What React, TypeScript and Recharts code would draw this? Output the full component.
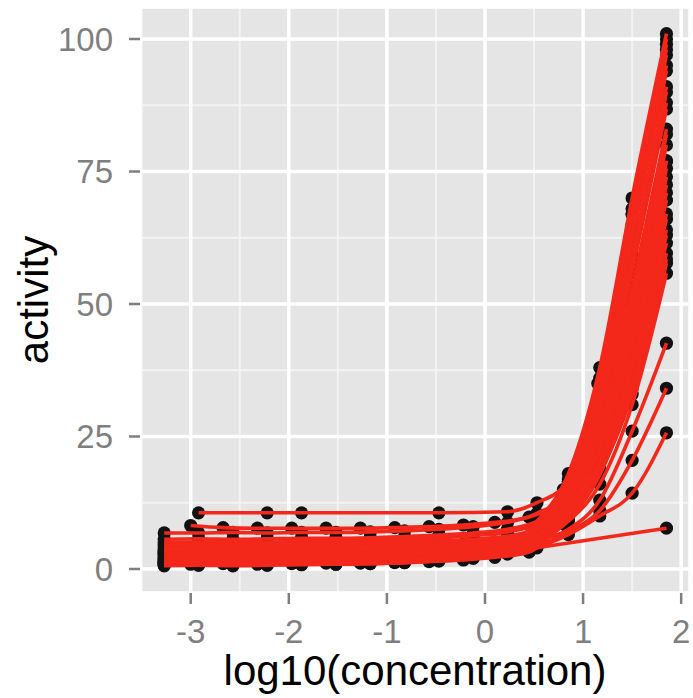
import React from 'react';
import { ComposedChart, Line, Scatter, XAxis, YAxis, CartesianGrid } from 'recharts';

// log10 concentration series (two dilution schemes)
const concA = [-3.27, -2.92, -2.57, -2.22, -1.87, -1.52, -1.17, -0.82, -0.47, -0.12, 0.23, 0.53, 0.85, 1.17, 1.5, 1.85];
const concB = [-3.0, -2.67, -2.32, -1.97, -1.62, -1.27, -0.92, -0.57, -0.22, 0.1, 0.45, 0.8, 1.15, 1.5, 1.85];

// activity per compound (concA scheme)
const cmpd01 = [2.0, 2.1, 1.9, 2.0, 2.2, 2.1, 2.3, 2.5, 2.8, 3.4, 4.6, 9, 18, 38, 70, 101];
const cmpd02 = [1.2, 1.3, 1.1, 1.3, 1.4, 1.4, 1.6, 1.9, 2.3, 2.9, 4.0, 8.5, 17, 36, 68, 100];
const cmpd03 = [3.2, 3.1, 3.3, 3.2, 3.3, 3.4, 3.5, 3.7, 4.0, 4.4, 5.3, 8, 16, 34, 65, 97];
const cmpd04 = [0.8, 0.9, 0.8, 1.0, 1.0, 1.1, 1.3, 1.5, 1.9, 2.5, 3.6, 8, 15.5, 32, 62, 94];
const cmpd05 = [4.2, 4.3, 4.1, 4.2, 4.4, 4.3, 4.5, 4.7, 5.0, 5.4, 6.0, 8, 15, 30, 59, 91];
const cmpd06 = [1.0, 1.1, 1.0, 1.1, 1.2, 1.3, 1.4, 1.7, 2.1, 2.7, 3.7, 7, 13, 27, 53, 83];
const cmpd07 = [5.0, 5.1, 5.2, 5.1, 5.2, 5.3, 5.4, 5.6, 5.9, 6.3, 7.0, 8.5, 13.5, 27, 52, 82];
const cmpd08 = [1.6, 1.5, 1.7, 1.7, 1.8, 1.9, 2.0, 2.2, 2.5, 3.0, 3.9, 6.5, 12, 25, 48, 77];
const cmpd09 = [3.8, 3.9, 3.8, 3.9, 4.0, 4.0, 4.1, 4.3, 4.6, 5.0, 5.7, 7.5, 12.5, 25, 47, 75.6];
const cmpd10 = [2.8, 2.7, 2.9, 2.9, 3.0, 3.0, 3.1, 3.3, 3.6, 4.0, 4.8, 6.5, 11.5, 23, 45, 72.5];
const cmpd11 = [4.6, 4.7, 4.6, 4.7, 4.8, 4.8, 4.9, 5.1, 5.3, 5.6, 6.2, 7.5, 11.5, 22, 42, 69.6];
const cmpd12 = [3.4, 3.5, 3.4, 3.5, 3.5, 3.6, 3.7, 3.8, 4.0, 4.3, 4.8, 6, 10, 19, 37, 61.5];
const cmpd13 = [1.3, 1.4, 1.3, 1.4, 1.5, 1.5, 1.6, 1.8, 2.1, 2.6, 3.4, 5.5, 9.5, 18, 35, 59.6];
const cmpd14 = [0.7, 0.8, 0.7, 0.8, 0.9, 0.9, 1.0, 1.2, 1.5, 2.0, 2.8, 5, 9, 16, 31, 55.8];
const cmpd15 = [3.0, 3.1, 3.0, 3.1, 3.2, 3.2, 3.3, 3.5, 3.7, 4.0, 4.5, 5.3, 7.5, 13, 26, 42.6];
const cmpd16 = [1.5, 1.6, 1.5, 1.6, 1.7, 1.7, 1.8, 2.0, 2.3, 2.7, 3.4, 4.3, 7, 11, 20.5, 34.1];
const cmpd17 = [2.0, 2.1, 2.0, 2.1, 2.2, 2.2, 2.3, 2.5, 2.7, 3.0, 3.5, 4.2, 6.5, 10, 14.3, 25.7];
const cmpd18 = [1.2, 1.3, 1.2, 1.3, 1.4, 1.4, 1.5, 1.7, 2.0, 2.5, 3.2, 4.0, null, null, null, 7.7];
const cmpd19 = [null, 10.6, null, 10.6, 10.6, null, null, null, 10.6, null, 10.8, 12.5, 16.5, 30, 52, 77];
const cmpd20 = [6.8, 6.8, 6.9, 6.8, 6.9, 6.9, 7.0, 7.2, 7.5, 8.0, 8.8, 10.5, 14.5, 29, 56, 86.8];
const cmpd27 = [2.6, 2.7, 2.5, 2.6, 2.7, 2.8, 2.9, 3.1, 3.4, 3.9, 5.0, 8.5, 16.5, 35, 67, 98];
const cmpd28 = [0.6, 0.7, 0.6, 0.7, 0.8, 0.9, 1.0, 1.2, 1.6, 2.2, 3.4, 7.5, 15.5, 33, 63, 95];
const cmpd29 = [3.6, 3.7, 3.6, 3.7, 3.8, 3.8, 3.9, 4.1, 4.4, 4.8, 5.6, 8, 14, 30, 57, 88];
const cmpd30 = [5.6, 5.7, 5.6, 5.7, 5.8, 5.8, 5.9, 6.1, 6.4, 6.8, 7.5, 9, 13, 26, 50, 80];
const cmpd31 = [1.1, 1.2, 1.1, 1.2, 1.3, 1.3, 1.4, 1.6, 1.9, 2.4, 3.3, 6.3, 11.5, 23, 46, 74];
const cmpd32 = [2.3, 2.4, 2.3, 2.4, 2.5, 2.5, 2.6, 2.8, 3.1, 3.5, 4.3, 6.2, 10.5, 20.5, 40, 66];

// activity per compound (concB scheme)
const cmpd21 = [2.4, 2.5, 2.4, 2.5, 2.6, 2.6, 2.7, 2.9, 3.2, 3.7, 4.8, 13, 29, 58, 90];
const cmpd22 = [0.9, 1.0, 0.9, 1.0, 1.1, 1.1, 1.2, 1.4, 1.7, 2.2, 3.2, 10.5, 22, 43, 71];
const cmpd23 = [2.2, 2.3, 2.2, 2.3, 2.4, 2.4, 2.5, 2.7, 3.0, 3.4, 4.3, 9.5, 19.5, 39, 64];
const cmpd24 = [2.6, 2.7, 2.6, 2.7, 2.8, 2.8, 2.9, 3.1, 3.3, 3.7, 4.5, 9, 17.5, 33, 57.7];
const cmpd25 = [8.2, 7.8, 7.7, 7.7, 7.7, 7.7, 7.8, 8.0, 8.3, 8.8, 9.8, 13.5, 24, 43, 67];
const cmpd26 = [1.8, 1.9, 1.8, 1.9, 2.0, 2.0, 2.1, 2.3, 2.6, 3.1, 4.3, 15, 35, 67, 99];
const cmpd33 = [3.9, 4.0, 3.9, 4.0, 4.1, 4.1, 4.2, 4.4, 4.7, 5.1, 5.9, 10, 19, 38, 63];
const cmpd34 = [1.5, 1.6, 1.5, 1.6, 1.7, 1.7, 1.8, 2.0, 2.3, 2.8, 3.7, 8.5, 17, 34, 58.5];

const xTicks = [-3, -2, -1, 0, 1, 2];
const yTicks = [0, 25, 50, 75, 100];
const xMinor = [-3.5, -2.5, -1.5, -0.5, 0.5, 1.5];
const yMinor = [12.5, 37.5, 62.5, 87.5];

const seriesA = [cmpd01, cmpd02, cmpd03, cmpd04, cmpd05, cmpd06, cmpd07, cmpd08, cmpd09, cmpd10, cmpd11, cmpd12, cmpd13,
  cmpd14, cmpd15, cmpd16, cmpd17, cmpd18, cmpd19, cmpd20, cmpd27, cmpd28, cmpd29, cmpd30, cmpd31, cmpd32];
const seriesB = [cmpd21, cmpd22, cmpd23, cmpd24, cmpd25, cmpd26, cmpd33, cmpd34];

const compounds = [
  ...seriesA.map((activity) => ({ conc: concA, activity })),
  ...seriesB.map((activity) => ({ conc: concB, activity })),
];

const series = compounds.map((c) => c.conc.map((x, i) => ({ x, y: c.activity[i] })));
const dots = series.flat().filter((p) => p.y !== null && p.y !== undefined);

const FONT = '"Liberation Sans", Arial, Helvetica, sans-serif';
const RED = '#f4271b';

const Dot = (props: any) => {
  const { cx, cy } = props;
  if (cx == null || cy == null) return null;
  return <circle cx={cx} cy={cy} r={6.6} fill="#111111" />;
};

export default function App() {
  return (
    <div style={{ position: 'absolute', left: 0, top: 0, width: 693, height: 698, background: '#fff' }}>
      <ComposedChart width={693} height={698} margin={{ top: 7, right: 3, bottom: 0, left: 0 }}>
        <CartesianGrid
          fill="#E5E5E5"
          fillOpacity={1}
          stroke="#F3F3F3"
          strokeWidth={2}
          horizontalValues={yMinor}
          verticalValues={xMinor}
        />
        <CartesianGrid stroke="#FFFFFF" strokeWidth={3.5} />
        <XAxis
          type="number"
          dataKey="x"
          domain={[-3.517, 2.09]}
          ticks={xTicks}
          allowDataOverflow
          height={105}
          tickSize={11}
          tickMargin={16}
          axisLine={false}
          tickLine={{ stroke: '#7f7f7f', strokeWidth: 2.5 }}
          tick={{ fill: '#7f7f7f', fontSize: 33, fontFamily: FONT }}
          label={{ value: 'log10(concentration)', position: 'insideBottom', offset: 13, fill: '#000', fontSize: 42, fontFamily: FONT }}
        />
        <YAxis
          type="number"
          dataKey="y"
          domain={[-4.53, 106.04]}
          ticks={yTicks}
          allowDataOverflow
          width={140}
          tickSize={11}
          tickMargin={16}
          axisLine={false}
          tickLine={{ stroke: '#7f7f7f', strokeWidth: 2.5 }}
          tick={{ fill: '#7f7f7f', fontSize: 33, fontFamily: FONT }}
          label={{ value: 'activity', angle: -90, position: 'insideLeft', offset: 33, fill: '#000', fontSize: 42, fontFamily: FONT, style: { textAnchor: 'middle' } }}
        />
        <Scatter data={dots} dataKey="y" shape={Dot} isAnimationActive={false} zIndex={300} />
        {series.map((d, i) => (
          <Line
            key={i}
            data={d}
            dataKey="y"
            type="monotone"
            stroke={RED}
            strokeWidth={3.6}
            dot={false}
            activeDot={false}
            connectNulls
            isAnimationActive={false}
            zIndex={400}
          />
        ))}
      </ComposedChart>
    </div>
  );
}
